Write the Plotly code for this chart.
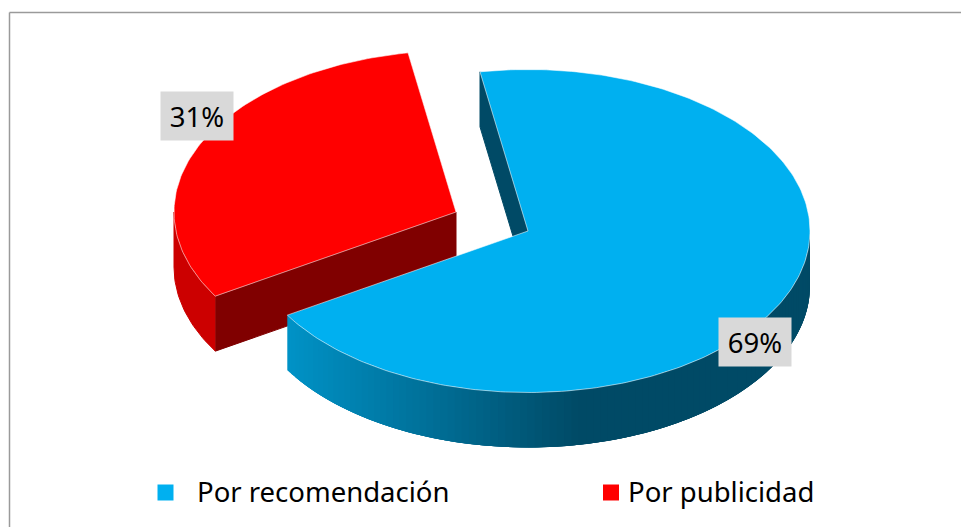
"""Exploded 3D-look pie: how customers found out (recomendacion vs publicidad)."""

import numpy as np
import plotly.graph_objects as go

categories = ["Por recomendación", "Por publicidad"]
shares = [69, 31]

BLUE = "#00b0f0"
RED = "#ff0000"
RED_INNER = "#800000"
RED_OUTER = "#cc0000"
BLUE_INNER = "#004a66"
BLUE_WALL_LEFT = np.array([0, 146, 198])
BLUE_WALL_RIGHT = np.array([0, 74, 102])
EDGE = "rgba(255,255,255,0.55)"
FONT = "Noto Sans"

WIDTH, HEIGHT = 961, 527
RX, RY = 282, 161.5
DEPTH = 55
START_ANGLE = -9.8  # degrees clockwise from 12 o'clock
CENTERS = [(528, 231), (456, 212)]  # second slice is pulled out
SHADE_FROM_X, SHADE_TO_X = 287, 575


def rim(center, t_from, t_to, n=120):
    t = np.radians(np.linspace(t_from, t_to, n))
    return center[0] + RX * np.sin(t), center[1] - RY * np.cos(t)


def add_poly(fig, x, y, fill, line=None, width=1):
    fig.add_trace(
        go.Scatter(
            x=x,
            y=y,
            mode="lines",
            fill="toself",
            fillcolor=fill,
            line=dict(color=line or fill, width=width),
            hoverinfo="skip",
            showlegend=False,
        )
    )


fig = go.Figure()

# slice angles come straight from the shares
blue_from = START_ANGLE
blue_to = blue_from + 360 * shares[0] / sum(shares)
red_from = blue_to
red_to = red_from + 360 * shares[1] / sum(shares)

# red slice: cut wall, outer wall, top
cx, cy = CENTERS[1]
rx_pt, ry_pt = rim(CENTERS[1], red_from, red_from, 1)
add_poly(
    fig,
    [cx, cx, rx_pt[0], rx_pt[0], cx],
    [cy, cy + DEPTH, ry_pt[0] + DEPTH, ry_pt[0], cy],
    RED_INNER,
)
wx, wy = rim(CENTERS[1], red_from, 270, 30)
add_poly(
    fig,
    np.concatenate([wx, wx[::-1]]),
    np.concatenate([wy, wy[::-1] + DEPTH]),
    RED_OUTER,
)
tx, ty = rim(CENTERS[1], red_from, red_to)
add_poly(fig, np.r_[cx, tx, cx], np.r_[cy, ty, cy], RED, line=EDGE)

# blue slice: cut wall, shaded outer wall, top
cx, cy = CENTERS[0]
bx_pt, by_pt = rim(CENTERS[0], blue_from, blue_from, 1)
add_poly(
    fig,
    [bx_pt[0], bx_pt[0], cx, cx, bx_pt[0]],
    [by_pt[0], by_pt[0] + DEPTH, cy + DEPTH, cy, by_pt[0]],
    BLUE_INNER,
)

# strips overlap the next ones so no seams show between them
steps = np.arange(blue_to, 90, -1.5)
for a in steps:
    wx, wy = rim(CENTERS[0], a, max(a - 6, 90), 8)
    frac = np.clip((wx[0] - SHADE_FROM_X) / (SHADE_TO_X - SHADE_FROM_X), 0, 1)
    rgb = BLUE_WALL_LEFT + (BLUE_WALL_RIGHT - BLUE_WALL_LEFT) * frac
    col = f"rgb({rgb[0]:.0f},{rgb[1]:.0f},{rgb[2]:.0f})"
    add_poly(
        fig,
        np.concatenate([wx, wx[::-1]]),
        np.concatenate([wy, wy[::-1] + DEPTH]),
        col,
        width=0,
    )

tx, ty = rim(CENTERS[0], blue_from, blue_to, 240)
add_poly(fig, np.r_[cx, tx, cx], np.r_[cy, ty, cy], BLUE, line=EDGE)

# legend swatches
fig.add_trace(
    go.Scatter(
        x=[165.5, 611],
        y=[492.5, 492.5],
        mode="markers",
        marker=dict(symbol="square", size=16, color=[BLUE, RED]),
        hoverinfo="skip",
        showlegend=False,
    )
)

annotations = []
for text, x in zip(categories, [195, 626]):
    annotations.append(
        dict(
            x=x, y=491, text=text, showarrow=False, xanchor="left", yanchor="middle",
            font=dict(family=FONT, size=27.5, color="#000000"),
        )
    )
for share, (x, y) in zip(shares, [(755, 342), (197, 116)]):
    annotations.append(
        dict(
            x=x, y=y, text=f"{share}%", showarrow=False, width=72, height=48,
            bgcolor="#d9d9d9", borderpad=0,
            font=dict(family=FONT, size=27.5, color="#000000"),
        )
    )

fig.update_layout(
    width=WIDTH,
    height=HEIGHT,
    margin=dict(l=0, r=0, t=0, b=0),
    paper_bgcolor="#ffffff",
    plot_bgcolor="#ffffff",
    showlegend=False,
    xaxis=dict(range=[0, WIDTH], visible=False, fixedrange=True),
    yaxis=dict(range=[HEIGHT, 0], visible=False, fixedrange=True),
    annotations=annotations,
    # chart frame, open on the right and bottom like the source
    shapes=[
        dict(type="line", x0=9.5, x1=9.5, y0=12.5, y1=HEIGHT, line=dict(color="#9a9a9a", width=1.5)),
        dict(type="line", x0=9.5, x1=WIDTH, y0=12.5, y1=12.5, line=dict(color="#9a9a9a", width=1.5)),
    ],
)

# the browser's default body margin would shift the whole chart
fig.write_html(
    "out.html",
    config={"displayModeBar": False},
    post_script="document.body.style.margin = '0'; document.body.style.overflow = 'hidden';",
)
